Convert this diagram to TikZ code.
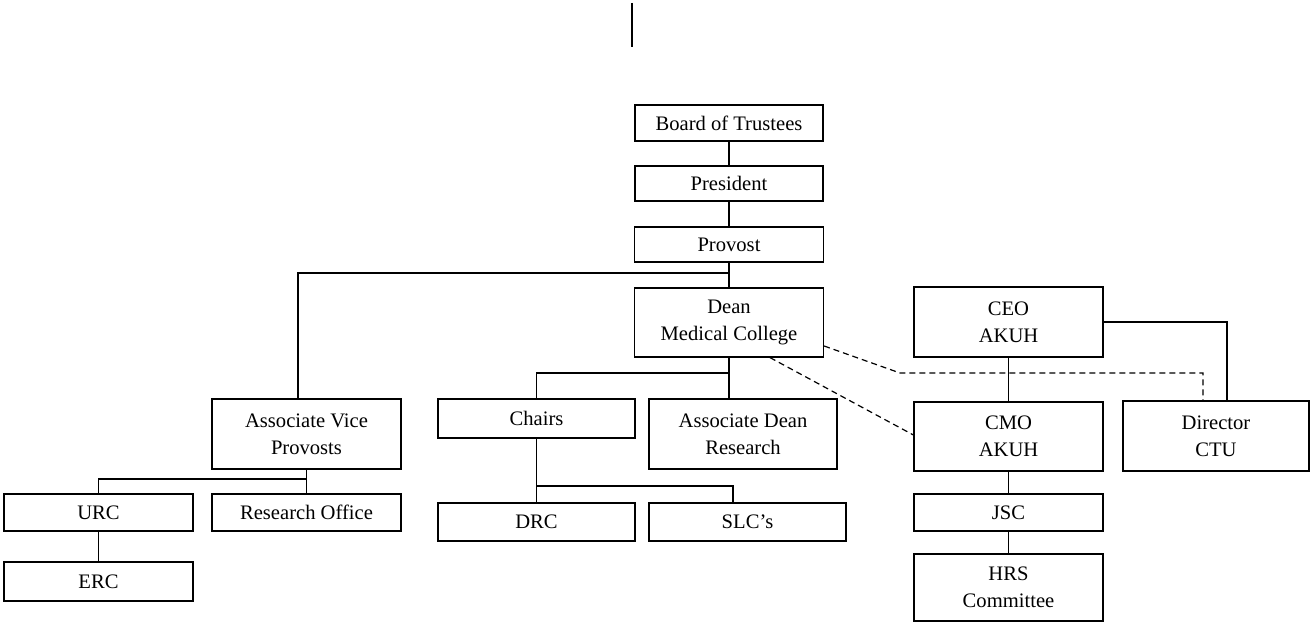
\documentclass[tikz,border=0pt]{standalone}
\usepackage{fontspec}
\setmainfont{Liberation Serif}
\usetikzlibrary{calc, positioning}

\begin{document}
\begin{tikzpicture}[x=0.5pt, y=-0.5pt,
    unit/.style={draw, line width=0.6pt, inner sep=0pt, align=center,
        font=\fontsize{10.3}{13.5}\selectfont},
    link/.style={line width=0.6pt},
    dotted link/.style={line width=0.6pt, dash pattern=on 3pt off 2pt}]
    \def\px{0.5pt}

    \useasboundingbox (0, 0) rectangle (1312, 624);

    % Draw all boxes
    \foreach \name/\x/\y/\w/\h/\txt in {
        board/729/123/188/36/{Board of Trustees},
        pres/729/183.5/188/35/{President},
        prov/729/244.5/189/35/{Provost},
        dean/729/322.5/189/69/{Dean\\Medical College},
        ceo/1008.5/322/189/70/{CEO\\AKUH},
        avp/306.5/434/189/70/{Associate Vice\\Provosts},
        chairs/536.5/418.5/197/39/{Chairs},
        adr/743/434/188/70/{Associate Dean\\Research},
        cmo/1008.5/436.5/189/69/{CMO\\AKUH},
        dir/1216/436/186/70/{Director\\CTU},
        urc/98.5/512.5/189/37/{URC},
        ro/306.5/512.5/189/37/{Research Office},
        drc/536.5/522/197/38/{DRC},
        slc/747.5/522/197/38/{SLC’s},
        jsc/1008.5/512.5/189/37/{JSC},
        erc/98.5/581.5/189/39/{ERC},
        hrs/1008.5/587.5/189/67/{HRS\\Committee}} {
        \node[unit, minimum width=\w*\px, minimum height=\h*\px] (\name) at (\x, \y) {\txt};
    }

    % Stray mark at the top
    \coordinate (markA) at (632, 3);
    \coordinate (markB) at (632, 47);
    \draw[link] (markA) -- (markB);

    % Main line
    \draw[link] (board) -- (pres);
    \draw[link] (pres) -- (prov);
    \draw[link] (prov) -- (dean);

    % Provost to associate vice provosts
    \coordinate (provJoin) at (729, 273);
    \draw[link] (provJoin) -| ([xshift=-8.5*\px]avp.north);

    % Associate vice provosts branch
    \coordinate (avpJoin) at (306.5, 479);
    \draw[link] (avp.south) -- (ro.north);
    \draw[link] (avpJoin) -| (urc.north);
    \draw[link] (urc) -- (erc);

    % Dean branch
    \coordinate (deanJoin) at (729, 373);
    \draw[link] (dean.south) -- ([xshift=-14*\px]adr.north);
    \draw[link] (deanJoin) -| (chairs.north);

    % Chairs branch
    \coordinate (chairsJoin) at (536.5, 486);
    \draw[link] (chairs.south) -- (drc.north);
    \draw[link] (chairsJoin) -| ([xshift=-14.5*\px]slc.north);

    % Hospital side
    \draw[link] (ceo) -- (cmo);
    \draw[link] (cmo) -- (jsc);
    \draw[link] (jsc) -- (hrs);
    \draw[link] (ceo.east) -| ([xshift=11*\px]dir.north);

    % Dotted reporting lines
    \coordinate (dotBend) at (900, 373);
    \draw[dotted link] ([yshift=-23.5*\px]dean.east) -- (dotBend) -| ([xshift=-13*\px]dir.north);
    \draw[dotted link] ([xshift=41*\px]dean.south) -- ([yshift=1.5*\px]cmo.west);
\end{tikzpicture}
\end{document}
